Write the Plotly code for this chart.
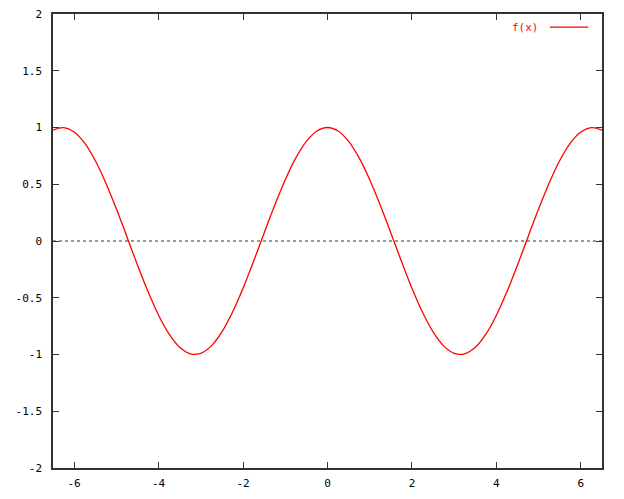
import plotly.graph_objects as go

x_vals = [-6.5, -6.25, -6.0, -5.75, -5.5, -5.25, -5.0, -4.75, -4.5, -4.25, -4.0,
          -3.75, -3.5, -3.25, -3.0, -2.75, -2.5, -2.25, -2.0, -1.75, -1.5, -1.25,
          -1.0, -0.75, -0.5, -0.25, 0.0, 0.25, 0.5, 0.75, 1.0, 1.25, 1.5, 1.75,
          2.0, 2.25, 2.5, 2.75, 3.0, 3.25, 3.5, 3.75, 4.0, 4.25, 4.5, 4.75, 5.0,
          5.25, 5.5, 5.75, 6.0, 6.25, 6.5]
y_vals = [0.977, 0.999, 0.960, 0.862, 0.709, 0.512, 0.284, 0.038, -0.211, -0.446, -0.654,
          -0.821, -0.937, -0.994, -0.990, -0.924, -0.801, -0.628, -0.416, -0.178, 0.071, 0.315,
          0.540, 0.732, 0.878, 0.969, 1.0, 0.969, 0.878, 0.732, 0.540, 0.315, 0.071, -0.178,
          -0.416, -0.628, -0.801, -0.924, -0.990, -0.994, -0.937, -0.821, -0.654, -0.446, -0.211, 0.038, 0.284,
          0.512, 0.709, 0.862, 0.960, 0.999, 0.977]

x_ticks = [-6, -4, -2, 0, 2, 4, 6]
y_ticks = [-2, -1.5, -1, -0.5, 0, 0.5, 1, 1.5, 2]
y_labels = ["-2", "-1.5", "-1", "-0.5", "0", "0.5", "1", "1.5", "2"]

axis_col = "#333333"
font = dict(family="DejaVu Sans Mono", size=11, color="#000000")

fig = go.Figure()
fig.add_trace(go.Scatter(x=x_vals, y=y_vals, mode="lines", name="f(x)", line_shape="spline",
                         line=dict(color="#ff0000", width=1.3), showlegend=False))

# dotted zero axis
fig.add_shape(type="line", xref="paper", x0=0, x1=1, yref="y", y0=0, y1=0,
              line=dict(color=axis_col, width=1, dash="dot"))

# key: text then line sample
fig.add_annotation(xref="paper", yref="paper", x=0.888, y=0.971, text="f(x)",
                   showarrow=False, xanchor="right", yanchor="middle",
                   font=dict(family="DejaVu Sans Mono", size=11, color="#ff0000"))
fig.add_shape(type="line", xref="paper", yref="paper", x0=0.905, x1=0.975, y0=0.971, y1=0.971,
              line=dict(color="#ff0000", width=1.3))

fig.update_xaxes(range=[-6.5, 6.5], tickvals=x_ticks, ticktext=[str(v) for v in x_ticks],
                 ticks="inside", ticklen=6, tickcolor=axis_col, showline=True, linecolor=axis_col,
                 linewidth=1.5, mirror="ticks", showgrid=False, zeroline=False, tickfont=font,
                 ticklabelstandoff=4, automargin=False)
fig.update_yaxes(range=[-2, 2], tickvals=y_ticks, ticktext=y_labels,
                 ticks="inside", ticklen=6, tickcolor=axis_col, showline=True, linecolor=axis_col,
                 linewidth=1.5, mirror="ticks", showgrid=False, zeroline=False, tickfont=font,
                 ticklabelstandoff=7, automargin=False)

fig.update_layout(width=624, height=499, margin=dict(l=53, r=22, t=14, b=31),
                  plot_bgcolor="white", paper_bgcolor="white")

fig.write_html("out.html", config={"displayModeBar": False},
               post_script="document.body.style.margin='0';")
